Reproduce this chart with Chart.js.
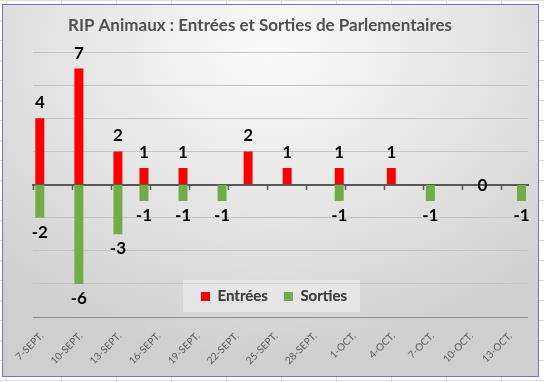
<!DOCTYPE html>
<html><head><meta charset="utf-8">
<script src="https://cdn.jsdelivr.net/npm/chart.js@4.4.0/dist/chart.umd.min.js"></script>
<style>
html,body{margin:0;padding:0;width:544px;height:382px;overflow:hidden;background:#fff;}
#sheet{position:absolute;left:0;top:0;width:544px;height:382px;
 background-image:linear-gradient(to right,#dadada 1px,transparent 1px),linear-gradient(to bottom,#dadada 1px,transparent 1px);
 background-size:55px 20px;background-position:6px 0,0 0;}
#frame{position:absolute;left:2px;top:4px;width:535px;height:371px;border:1px solid #7474b6;
 background:radial-gradient(ellipse 75% 85% at 50% 12%,#fbfbfb 0%,#e8e8e8 45%,#cfcfcf 100%);}
canvas{position:absolute;left:0;top:0;}
</style></head>
<body>
<div id="sheet"></div><div id="frame"></div>
<canvas id="c" width="544" height="382"></canvas>
<script>
// ---- data ----
const eventDates = ['2020-09-07','2020-09-10','2020-09-13','2020-09-15','2020-09-18','2020-09-21','2020-09-23','2020-09-26','2020-09-30','2020-10-04','2020-10-07','2020-10-11','2020-10-14'];
const entrees = [4, 7, 2, 1, 1, null, 2, 1, 1, 1, null, 0, null];
const sorties = [-2, -6, -3, -1, -1, -1, null, null, -1, null, -1, null, -1];
const tickLabels = ['7-SEPT.','10-SEPT.','13-SEPT.','16-SEPT.','19-SEPT.','22-SEPT.','25-SEPT.','28-SEPT.','1-OCT.','4-OCT.','7-OCT.','10-OCT.','13-OCT.'];
const seriesNames = ['Entrées', 'Sorties'];
const titleText = 'RIP Animaux : Entrées et Sorties de Parlementaires';
const axisStart = '2020-09-07';
const axisDays = 38;
const tickEvery = 3;
const yMin = -8, yMax = 8, yStep = 2;

// ---- build daily category axis ----
const days = [];
for (let i = 0; i < axisDays; i++) {
  days.push(new Date(Date.parse(axisStart + 'T00:00:00Z') + i * 86400000).toISOString().slice(0, 10));
}
const byDay = (vals) => days.map(d => { const k = eventDates.indexOf(d); return k < 0 ? null : vals[k]; });

const FONT = 'Lato';
const CHART_BOTTOM = 317;

const valueLabels = {
  id: 'valueLabels',
  afterDatasetsDraw(chart) {
    const ctx = chart.ctx;
    ctx.save();
    ctx.font = 'bold 17px ' + FONT;
    ctx.fillStyle = '#000';
    ctx.textAlign = 'center';
    ctx.textBaseline = 'alphabetic';
    chart.data.datasets.forEach((ds, di) => {
      const meta = chart.getDatasetMeta(di);
      meta.data.forEach((el, i) => {
        const v = ds.data[i];
        if (v === null || v === undefined) return;
        if (v > 0) ctx.fillText(String(v), el.x, el.y - 10);
        else if (v < 0) ctx.fillText(String(v), el.x, el.y + 20);
        else ctx.fillText(String(v), el.x, el.y + 6);
      });
    });
    ctx.restore();
  }
};

const legendInPlot = {
  id: 'legendInPlot',
  afterLayout(chart) {
    const lg = chart.legend;
    const p = lg.options.labels.padding;
    const fs = lg.options.labels.font.size;
    lg.left = 201 - p;
    lg.right = 544;
    lg.top = 296.5 - p - fs / 2;
    lg.bottom = lg.top + 50;
  },
  afterDatasetsDraw(chart) {
    const ctx = chart.ctx;
    ctx.save();
    ctx.fillStyle = 'rgba(255,255,255,0.35)';
    ctx.fillRect(183, 280, 177, 32);
    ctx.restore();
    chart.legend.draw();
  }
};

new Chart(document.getElementById('c'), {
  type: 'bar',
  data: {
    labels: days,
    datasets: [
      { label: seriesNames[0], data: byDay(entrees), backgroundColor: '#ff0000', grouped: false, barPercentage: 0.69, categoryPercentage: 1 },
      { label: seriesNames[1], data: byDay(sorties), backgroundColor: '#70ad47', grouped: false, barPercentage: 0.69, categoryPercentage: 1 }
    ]
  },
  options: {
    responsive: false,
    animation: false,
    layout: { padding: { left: -8, right: 16, top: 0, bottom: 0 } },
    plugins: {
      title: { display: true, text: titleText, color: '#505050', font: { family: FONT, size: 17, weight: 'bold', lineHeight: 1.2 }, padding: { top: 15, bottom: 16.6 } },
      legend: { position: 'bottom', align: 'start', maxHeight: 1,
        labels: { boxWidth: 9, boxHeight: 9, padding: 16, color: '#404040', font: { family: FONT, size: 15, weight: 'bold' } } },
      tooltip: { enabled: false }
    },
    scales: {
      x: {
        type: 'category', offset: true,
        grid: { display: false }, border: { display: false },
        ticks: { autoSkip: false, minRotation: 45, maxRotation: 45, padding: 5, labelOffset: 2, color: '#595959',
          font: { family: FONT, size: 10 },
          callback: (v, i) => (i % tickEvery === 0 ? tickLabels[i / tickEvery] : '') },
        afterFit: (s) => { s.height = 382 - CHART_BOTTOM - s.chart.legend.height; }
      },
      x2: {
        type: 'category', position: { y: 0 }, offset: true, z: 1,
        ticks: { display: false },
        grid: { drawOnChartArea: false, offset: true, tickLength: 4, tickWidth: 1.5,
          tickColor: (c) => (c.index % tickEvery === 0 ? '#595959' : 'rgba(0,0,0,0)') },
        border: { color: '#595959', width: 2 }
      },
      y: {
        min: yMin, max: yMax,
        ticks: { display: false, stepSize: yStep },
        grid: { color: (c) => (c.tick && c.tick.value === yMin ? '#8c8c8c' : '#c4c4c4'), drawTicks: false },
        border: { display: false },
        afterFit: (s) => { s.width = 41.3; }
      }
    }
  },
  plugins: [valueLabels, legendInPlot]
});
</script>
</body></html>
